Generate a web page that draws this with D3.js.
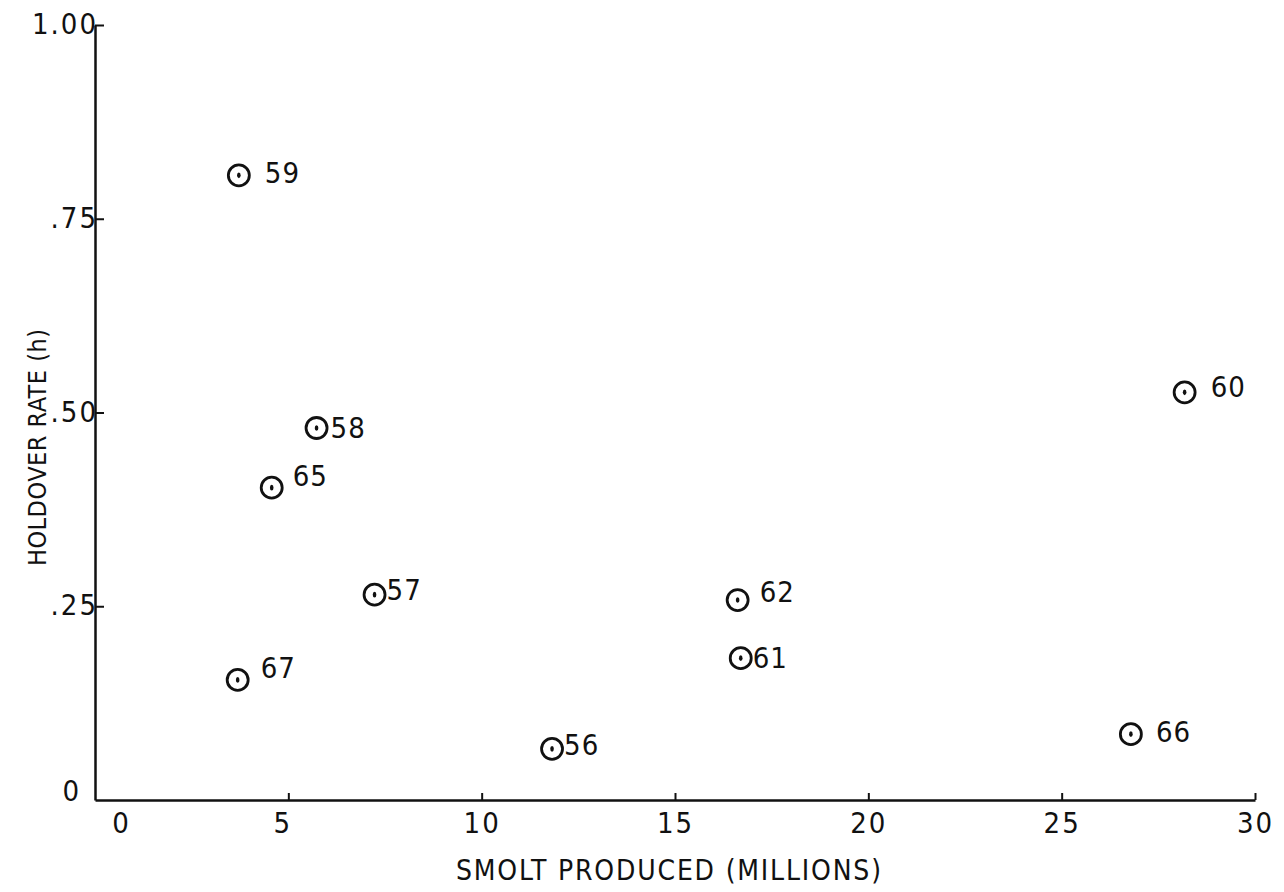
<!DOCTYPE html>
<html>
<head>
<meta charset="utf-8">
<script src="https://cdn.jsdelivr.net/npm/d3@7"></script>
<style>
  body { margin: 0; background: #fff; }
  svg text { font-family: "Liberation Sans Narrow", "DejaVu Sans Condensed", "Roboto Condensed", sans-serif; fill: #111; }
</style>
</head>
<body>
<svg id="chart" width="1284" height="892"></svg>
<script>
// year labels, smolt produced (millions), holdover rate
const years = ['59', '58', '65', '57', '67', '56', '62', '61', '60', '66'];
const smolt = [3.72, 5.73, 4.57, 7.23, 3.69, 11.82, 16.62, 16.70, 28.18, 26.79];
const holdover = [0.806, 0.48, 0.403, 0.265, 0.155, 0.066, 0.258, 0.183, 0.526, 0.085];

const xTicks = [0, 5, 10, 15, 20, 25, 30];
const yTicks = [0, 0.25, 0.5, 0.75, 1.0];
const yTickLabels = ['0', '.25', '.50', '.75', '1.00'];

// label offsets from the circle centre (typed by hand in the original)
const labelDx = [26, 14, 21, 12, 23, 12, 22, 12, 26, 25];
const labelDy = [-3, 0, -12, -5, -12, -4, -8, 0, -6, -2];

const svg = d3.select('#chart');
const margin = {left: 95, right: 29, top: 25, bottom: 92};
const height = 892 - margin.top - margin.bottom;

const x = d3.scaleLinear().domain([0, 30]).range([0, 1160]);
const y = d3.scaleLinear().domain([0, 1]).range([height, 0]);

const g = svg.append('g').attr('transform', `translate(${margin.left},${margin.top})`);

// x axis
const xAxis = g.append('g')
  .attr('transform', `translate(0,${height})`)
  .call(d3.axisBottom(x).tickValues(xTicks).tickSizeInner(-7).tickSizeOuter(0).tickPadding(12));
xAxis.select('.domain').attr('stroke', '#111').attr('stroke-width', 2.5);
xAxis.selectAll('.tick line').attr('stroke', '#111').attr('stroke-width', 2);
xAxis.selectAll('.tick line').filter(d => d === 0).remove();
xAxis.selectAll('.tick text')
  .attr('font-size', 29)
  .attr('letter-spacing', 2)
  .attr('fill', '#111')
  .attr('dx', d => d === 0 ? 26 : d === 5 ? -6 : 0);

// y axis
const yAxis = g.append('g')
  .call(d3.axisLeft(y).tickValues(yTicks).tickFormat((d, i) => yTickLabels[i])
    .tickSizeInner(-9).tickSizeOuter(0).tickPadding(-3));
yAxis.select('.domain').attr('stroke', '#111').attr('stroke-width', 2.5);
yAxis.selectAll('.tick line').attr('stroke', '#111').attr('stroke-width', 2);
yAxis.selectAll('.tick line').filter(d => d === 0).remove();
yAxis.selectAll('.tick text')
  .attr('font-size', 29)
  .attr('letter-spacing', 2)
  .attr('fill', '#111')
  .attr('dx', d => d === 0 ? -17 : 0)
  .attr('dy', d => d === 0 ? '0.0em' : '0.3em');

// points
const pts = g.selectAll('.pt')
  .data(years)
  .join('g')
  .attr('class', 'pt')
  .attr('transform', (d, i) => `translate(${x(smolt[i])},${y(holdover[i])})`);

pts.append('circle')
  .attr('r', 10.5)
  .attr('fill', 'none')
  .attr('stroke', '#111')
  .attr('stroke-width', 2.8);

pts.append('ellipse')
  .attr('rx', 1.8)
  .attr('ry', 2.8)
  .attr('fill', '#111');

pts.append('text')
  .attr('x', (d, i) => labelDx[i])
  .attr('y', (d, i) => labelDy[i])
  .attr('dy', '0.35em')
  .attr('font-size', 29)
  .attr('letter-spacing', 1)
  .text(d => d);

// axis titles
svg.append('text')
  .attr('x', 456)
  .attr('y', 880)
  .attr('font-size', 28)
  .attr('textLength', 425)
  .attr('lengthAdjust', 'spacing')
  .text('SMOLT PRODUCED (MILLIONS)');

svg.append('text')
  .attr('transform', 'translate(46,566) rotate(-90)')
  .attr('font-size', 25)
  .attr('textLength', 237)
  .attr('lengthAdjust', 'spacing')
  .text('HOLDOVER RATE (h)');
</script>
</body>
</html>
